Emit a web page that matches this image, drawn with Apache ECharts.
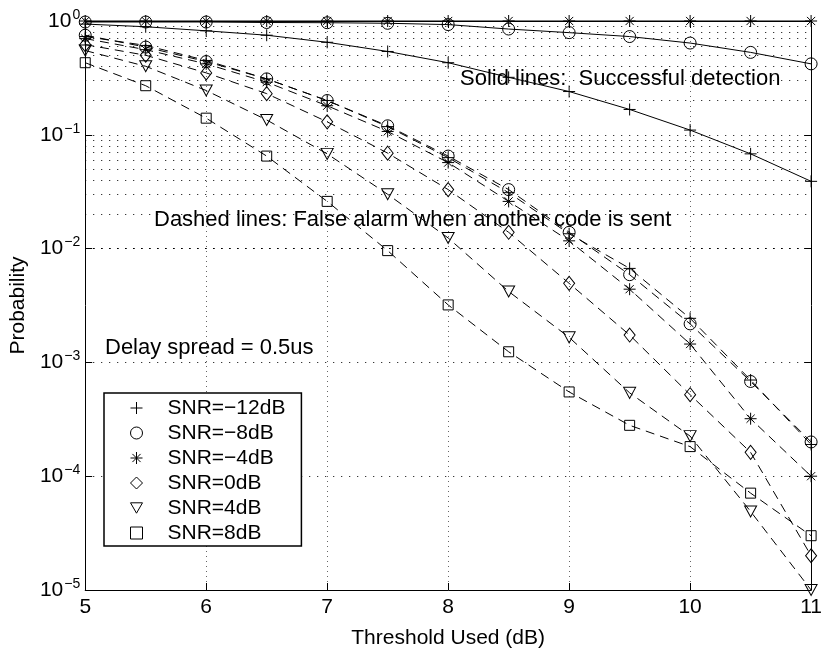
<!DOCTYPE html>
<html>
<head>
<meta charset="utf-8">
<script src="https://cdn.jsdelivr.net/npm/echarts@6/dist/echarts.min.js"></script>
<style>
  html, body { margin: 0; padding: 0; background: #fff; }
  #chart { width: 825px; height: 654px; }
</style>
</head>
<body>
<div id="chart"></div>
<script>
// Threshold values (dB) on the x axis
const thresholds = [5, 5.5, 6, 6.5, 7, 7.5, 8, 8.5, 9, 9.5, 10, 10.5, 11];

// Legend names, one per SNR
const snrNames = ['SNR=\u221212dB', 'SNR=\u22128dB', 'SNR=\u22124dB', 'SNR=0dB', 'SNR=4dB', 'SNR=8dB'];

// Probability of successful detection (solid lines)
const detSnrM12 = [0.94, 0.89, 0.82, 0.75, 0.65, 0.54, 0.43, 0.32, 0.24, 0.167, 0.11, 0.068, 0.039];
const detSnrM8  = [0.98, 0.98, 0.98, 0.97, 0.966, 0.955, 0.93, 0.85, 0.79, 0.73, 0.64, 0.53, 0.42];
const detSnrM4  = [1, 1, 1, 1, 1, 1, 1, 1, 1, 1, 1, 1, 1];

// Probability of false alarm when another code is sent (dashed lines)
const faSnrM12 = [0.73, 0.61, 0.45, 0.31, 0.2, 0.118, 0.063, 0.031, 0.0135, 0.0067, 0.00244, 0.0007, 0.00019];
const faSnrM8  = [0.75, 0.59, 0.44, 0.31, 0.2, 0.12, 0.065, 0.033, 0.0139, 0.0059, 0.00218, 0.00068, 0.0002];
const faSnrM4  = [0.7, 0.56, 0.42, 0.29, 0.18, 0.107, 0.057, 0.026, 0.0117, 0.0044, 0.00145, 0.00032, 0.0001];
const faSnr0   = [0.62, 0.5, 0.35, 0.23, 0.13, 0.069, 0.033, 0.0139, 0.00495, 0.00174, 0.00052, 0.000162, 0.00002];
const faSnr4   = [0.55, 0.4, 0.245, 0.135, 0.068, 0.03, 0.0124, 0.0042, 0.00166, 0.00054, 0.000225, 0.000049, 0.00001];
const faSnr8   = [0.43, 0.27, 0.14, 0.065, 0.026, 0.0096, 0.0032, 0.00124, 0.00055, 0.00028, 0.000182, 0.000071, 0.00003];

// Y tick values (decades)
const yTicks = [1e-5, 1e-4, 1e-3, 1e-2, 1e-1, 1];

const FONT = '"Liberation Sans", Arial, Helvetica, sans-serif';

// Marker shapes
const SYM_PLUS = 'path://M0,5L10,5M5,0L5,10';
const SYM_STAR = 'path://M5,0L5,10M0,5L10,5M1.6,1.6L8.4,8.4M1.6,8.4L8.4,1.6';
const SYM_TRI_DOWN = 'path://M0,0L10,0L5,8.66Z';
const markers = [
  { symbol: SYM_PLUS, size: 12 },
  { symbol: 'circle', size: 12 },
  { symbol: SYM_STAR, size: 12 },
  { symbol: 'diamond', size: [11, 14] },
  { symbol: SYM_TRI_DOWN, size: [12, 11] },
  { symbol: 'rect', size: 10 }
];

const hollow = { color: 'rgba(0,0,0,0)', borderColor: '#000', borderWidth: 1 };

function pairs(ys) {
  return thresholds.map((x, i) => [x, ys[i]]);
}

function makeSeries(idx, ys, dashed) {
  const m = markers[idx];
  return {
    name: snrNames[idx],
    type: 'line',
    data: pairs(ys),
    symbol: m.symbol,
    symbolSize: m.size,
    showSymbol: true,
    clip: false,
    itemStyle: hollow,
    lineStyle: { color: '#000', width: 1, type: dashed ? [9, 6] : 'solid' },
    emphasis: { disabled: true },
    silent: true,
    z: 3
  };
}

// Minor grid positions 2..9 in every decade
const minorGrid = [];
for (let d = -5; d < 0; d++) {
  for (let k = 2; k <= 9; k++) minorGrid.push(k * Math.pow(10, d));
}

const series = [
  makeSeries(0, detSnrM12, false),
  makeSeries(1, detSnrM8, false),
  makeSeries(2, detSnrM4, false),
  makeSeries(0, faSnrM12, true),
  makeSeries(1, faSnrM8, true),
  makeSeries(2, faSnrM4, true),
  makeSeries(3, faSnr0, true),
  makeSeries(4, faSnr4, true),
  makeSeries(5, faSnr8, true),
  {
    name: 'minor-grid',
    type: 'line',
    data: [],
    silent: true,
    z: 1,
    markLine: {
      silent: true,
      symbol: ['none', 'none'],
      label: { show: false },
      emphasis: { disabled: true },
      animation: false,
      lineStyle: { color: '#000', width: 1, type: [1, 7] },
      data: minorGrid.map(v => ({ yAxis: v }))
    }
  }
];

function expLabel(v) {
  const e = Math.round(Math.log10(v));
  const s = e === 0 ? '0' : '\u2212' + (-e);
  return '{b|10}{s|' + s + '}';
}

const axisCommon = {
  axisLine: { show: true, onZero: false, lineStyle: { color: '#000', width: 1 } },
  axisTick: { show: true, inside: true, length: 7, lineStyle: { color: '#000' } }
};

const chart = echarts.init(document.getElementById('chart'), null, { renderer: 'canvas' });
chart.setOption({
  animation: false,
  backgroundColor: '#fff',
  grid: { left: 84, top: 21, right: 9, bottom: 64, containLabel: false },
  xAxis: [
    Object.assign({}, axisCommon, {
      type: 'value', min: 5, max: 11, interval: 1, position: 'bottom',
      axisLabel: { color: '#000', fontSize: 21, fontFamily: FONT, margin: 7 },
      splitLine: { show: true, lineStyle: { color: '#666', width: 1, type: [1, 4] } },
      name: 'Threshold Used (dB)', nameLocation: 'middle', nameGap: 38,
      nameTextStyle: { color: '#000', fontSize: 21, fontFamily: FONT }
    }),
    Object.assign({}, axisCommon, {
      type: 'value', min: 5, max: 11, interval: 1, position: 'top',
      axisLabel: { show: false }, splitLine: { show: false }
    })
  ],
  yAxis: [
    Object.assign({}, axisCommon, {
      type: 'log', logBase: 10, min: yTicks[0], max: yTicks[yTicks.length - 1], position: 'left',
      splitNumber: 5,
      axisLabel: {
        formatter: expLabel, margin: 5,
        rich: {
          b: { fontSize: 21, fontFamily: FONT, color: '#000' },
          s: { fontSize: 14, fontFamily: FONT, color: '#000', padding: [0, 0, 12, 1] }
        }
      },
      splitLine: { show: true, lineStyle: { color: '#000', width: 1, type: [1, 7] } },
      name: 'Probability', nameLocation: 'middle', nameGap: 49,
      nameTextStyle: { color: '#000', fontSize: 21, fontFamily: FONT }
    }),
    Object.assign({}, axisCommon, {
      type: 'log', logBase: 10, min: yTicks[0], max: yTicks[yTicks.length - 1], position: 'right',
      splitNumber: 5,
      axisLabel: { show: false }, splitLine: { show: false }
    })
  ],
  legend: {
    orient: 'vertical', left: 104, top: 393,
    padding: [3, 16, 1, 26],
    itemGap: 1, itemWidth: 12, itemHeight: 12,
    borderColor: '#000', borderWidth: 1.5, backgroundColor: '#fff',
    selectedMode: false,
    textStyle: { color: '#000', fontSize: 21, fontFamily: FONT, lineHeight: 24, padding: [0, 0, 0, 20] },
    data: snrNames.map((n, i) => ({
      name: n,
      icon: markers[i].symbol,
      itemStyle: hollow
    }))
  },
  graphic: [
    { type: 'text', x: 460, y: 79, z: 10, style: { text: 'Solid lines:  Successful detection', font: '22px ' + FONT, fill: '#000', verticalAlign: 'middle' } },
    { type: 'text', x: 154, y: 220, z: 10, style: { text: 'Dashed lines: False alarm when another code is sent', font: '22px ' + FONT, fill: '#000', verticalAlign: 'middle' } },
    { type: 'text', x: 105, y: 348, z: 10, style: { text: 'Delay spread = 0.5us', font: '22px ' + FONT, fill: '#000', verticalAlign: 'middle' } }
  ],
  series: series
});
</script>
</body>
</html>
